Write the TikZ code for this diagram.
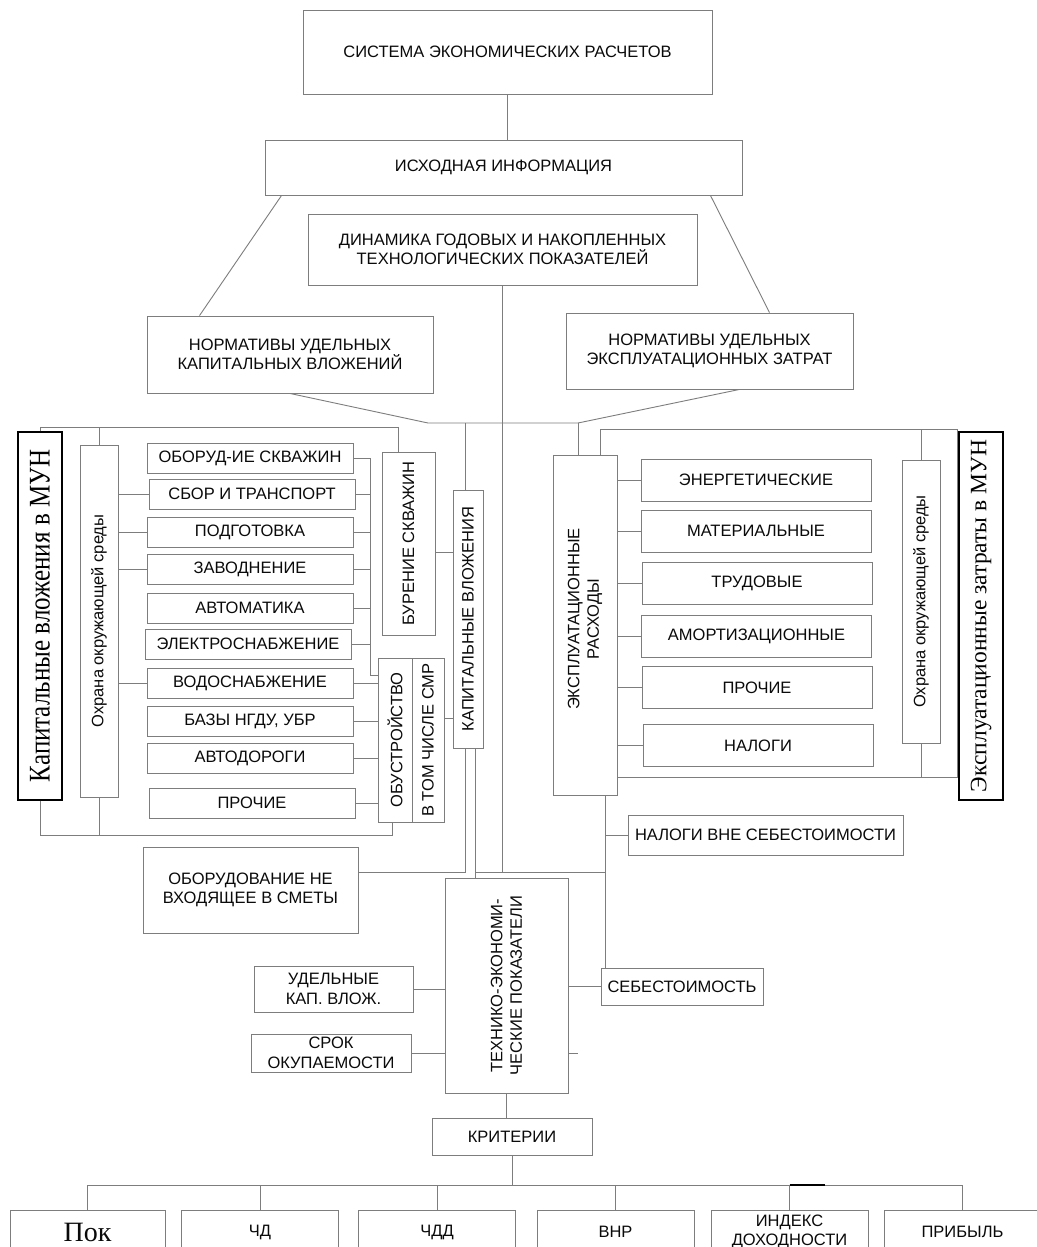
\documentclass[tikz,border=0pt]{standalone}
\usepackage{graphicx}
\usepackage{fontspec}
\setmainfont{Liberation Sans}
\newfontfamily\timesfont{Liberation Serif}
\usetikzlibrary{positioning}
\definecolor{linegray}{RGB}{125,125,125}
\definecolor{txtgray}{RGB}{10,10,10}
\newcommand{\labfont}{\fontsize{16.5}{19.5}\selectfont}
\newcommand{\bigserif}{\timesfont\fontsize{25}{28}\selectfont}
\tikzset{
  box/.style={draw=linegray, line width=0.9pt, inner sep=0pt, align=center, font=\labfont, text=txtgray},
  sz/.style 2 args={minimum width=#1pt, minimum height=#2pt},
  vlab/.style={rotate=90, inner sep=0pt, align=center, font=\labfont, text=txtgray},
  conn/.style={draw=linegray, line width=0.9pt},
  mun/.style={draw=black, line width=1.3pt, inner sep=0pt},
}

\begin{document}
\begin{tikzpicture}[x=1pt, y=-1pt]
\useasboundingbox (0,0) rectangle (1036,1247);
\fill[white] (0,0) rectangle (1036,1247);

% top part
\node[box, sz={409}{84}] (sys) at (507.5,52) {СИСТЕМА ЭКОНОМИЧЕСКИХ РАСЧЕТОВ};
\node[box, sz={477}{55}] (info) at (503.5,167.5) {ИСХОДНАЯ ИНФОРМАЦИЯ};
\node[box, sz={389}{71}] (dyn) at (502.5,249.5) {ДИНАМИКА ГОДОВЫХ И НАКОПЛЕННЫХ\\ТЕХНОЛОГИЧЕСКИХ ПОКАЗАТЕЛЕЙ};
\node[box, sz={286}{77}] (nkv) at (290,354.5) {НОРМАТИВЫ УДЕЛЬНЫХ\\КАПИТАЛЬНЫХ ВЛОЖЕНИЙ};
\node[box, sz={287}{76}] (nez) at (709.5,351) {НОРМАТИВЫ УДЕЛЬНЫХ\\ЭКСПЛУАТАЦИОННЫХ ЗАТРАТ};

% capital investments
\node[mun, sz={44}{368}] (kvmun) at (40,616) {};
\node[rotate=90, inner sep=0pt, font=\bigserif] (kvmun-t) at (kvmun.center) {\scalebox{1}[1.2]{Капитальные вложения в МУН}};
\node[box, sz={38}{352}] (oxrl) at (99,621) {};
\node[vlab] (oxrl-t) at (oxrl.center) {Охрана окружающей среды};
\foreach \i/\x/\y/\t in {1/250/458/ОБОРУД-ИЕ СКВАЖИН, 2/252/494/СБОР И ТРАНСПОРТ, 3/250/532/ПОДГОТОВКА,
  4/250/569/ЗАВОДНЕНИЕ, 5/250/608/АВТОМАТИКА, 6/248/644/ЭЛЕКТРОСНАБЖЕНИЕ, 7/250/683/ВОДОСНАБЖЕНИЕ,
  8/250/721/{БАЗЫ НГДУ, УБР}, 9/250/758/АВТОДОРОГИ, 10/252/803/ПРОЧИЕ}
  \node[box, sz={206}{30}] (li\i) at (\x,\y) {\t};
\node[box, sz={53}{183}] (bs) at (408.5,543.5) {};
\node[vlab] (bs-t) at (bs.center) {БУРЕНИЕ СКВАЖИН};
\node[box, sz={34}{164}] (obu) at (395,740) {};
\node[vlab] (obu-t) at (obu.center) {ОБУСТРОЙСТВО};
\node[box, sz={32}{164}] (smr) at (428,740) {};
\node[vlab] (smr-t) at (smr.center) {В ТОМ ЧИСЛЕ СМР};
\node[box, sz={30}{258}] (kv) at (468,619) {};
\node[vlab] (kv-t) at (kv.center) {КАПИТАЛЬНЫЕ ВЛОЖЕНИЯ};
\node[box, sz={215}{86}] (obne) at (250.5,890) {ОБОРУДОВАНИЕ НЕ\\ВХОДЯЩЕЕ В СМЕТЫ};

% operating costs
\node[box, sz={64}{340}] (er) at (585,625) {};
\node[vlab] (er-t) at ([yshift=6pt]er.center) {ЭКСПЛУАТАЦИОННЫЕ\\РАСХОДЫ};
\foreach \i/\x/\y/\t in {1/756/480/ЭНЕРГЕТИЧЕСКИЕ, 2/756/531/МАТЕРИАЛЬНЫЕ, 3/757/583/ТРУДОВЫЕ,
  4/756.5/636/АМОРТИЗАЦИОННЫЕ, 5/757/687.5/ПРОЧИЕ, 6/758/745.5/НАЛОГИ}
  \node[box, sz={230}{42}] (ri\i) at (\x,\y) {\t};
\node[box, sz={38}{283}] (oxrr) at (921,601.5) {};
\node[vlab] (oxrr-t) at (oxrr.center) {Охрана окружающей среды};
\node[mun, sz={44}{368}] (ezmun) at (981,616) {};
\node[rotate=90, inner sep=0pt, font=\timesfont\fontsize{23.5}{26}\selectfont] (ezmun-t) at (ezmun.center) {Эксплуатационные затраты в МУН};
\node[box, sz={275}{40}] (nvs) at (765.5,835) {НАЛОГИ ВНЕ СЕБЕСТОИМОСТИ};

% indicators and criteria
\node[box, sz={123}{215}] (tep) at (506.5,985.5) {};
\node[vlab] (tep-t) at (tep.center) {ТЕХНИКО-ЭКОНОМИ-\\ЧЕСКИЕ ПОКАЗАТЕЛИ};
\node[box, sz={162}{37}] (seb) at (682,986.5) {СЕБЕСТОИМОСТЬ};
\node[box, sz={159}{46}] (ukv) at (333.5,989) {УДЕЛЬНЫЕ\\КАП. ВЛОЖ.};
\node[box, sz={160}{38}] (srok) at (331,1053) {СРОК\\ОКУПАЕМОСТИ};
\node[box, sz={160}{37}] (krit) at (512,1136.5) {КРИТЕРИИ};
\node[box, sz={155}{44}, font=\timesfont\fontsize{28}{30}\selectfont] (b1) at (87.5,1232) {Пок};
\foreach \i/\x/\t in {2/260/ЧД, 3/437/ЧДД, 4/615.5/ВНР, 5/789.5/ИНДЕКС\\ДОХОДНОСТИ, 6/962.5/ПРИБЫЛЬ}
  \node[box, sz={157}{44}] (b\i) at (\x,1232) {\t};

\coordinate (jl) at (428,423);
\coordinate (jr) at (578,423);
\coordinate (ltop) at (40,427);
\coordinate (lbot) at (40,835);
\coordinate (lvx) at (370,675);
\coordinate (mbus) at (0,872);
\coordinate (rtop) at (957,429);
\coordinate (rbot) at (957,777);
\coordinate (bbus) at (0,1185);

\draw[conn] (sys.south) -- (sys.south |- info.north);
\draw[conn] ([xshift=17pt]info.south west) -- ([xshift=53pt]nkv.north west);
\draw[conn] ([xshift=-32pt]info.south east) -- ([xshift=60pt]nez.north);
\draw[conn] (nkv.south) -- (jl) -- (jr) -- ([xshift=30pt]nez.south);
\draw[conn] (dyn.south) -- (dyn.south |- mbus);
\draw[conn] ([xshift=-3pt]kv.north) -- ([xshift=-3pt]kv.north |- jl);
\draw[conn] ([xshift=-7pt]er.north) -- ([xshift=-7pt]er.north |- jr);

% left bracket
\draw[conn] (kvmun.north) -- (ltop) -| ([xshift=-10pt]bs.north);
\draw[conn] (oxrl.north) -- (oxrl.north |- ltop);
\draw[conn] (kvmun.south) -- (lbot) -| ([xshift=-3pt]obu.south);
\draw[conn] (oxrl.south) -- (oxrl.south |- lbot);
\foreach \i in {2,3,4,7} \draw[conn] (oxrl.east |- li\i.west) -- (li\i.west);
\draw[conn] (li1.east) -| (lvx) -- (lvx -| obu.west);
\foreach \i in {2,...,6} \draw[conn] (li\i.east) -- (li\i.east -| lvx);
\foreach \i in {7,...,10} \draw[conn] (li\i.east) -- (li\i.east -| obu.west);
\draw[conn] ([yshift=-9pt]bs.east) -- ([yshift=-9pt]bs.east -| kv.west);
\draw[conn] ([yshift=22pt]smr.east) -- ([yshift=22pt]smr.east -| kv.west);
\draw[conn] ([xshift=-3pt]kv.south) |- ([yshift=18pt]obne.east);
\draw[conn] ([xshift=7pt]kv.south) -- ([xshift=7pt]kv.south |- tep.north);
\draw[conn] ([xshift=7pt]kv.south |- mbus) -- ([xshift=20pt]er.south |- mbus);

% right bracket
\draw[conn] ([xshift=15pt]er.north) |- (rtop) -- (rbot) -- (er.east |- rbot);
\draw[conn] (oxrr.north) -- (oxrr.north |- rtop);
\draw[conn] (oxrr.south) -- (oxrr.south |- rbot);
\foreach \i in {1,...,6} \draw[conn] (er.east |- ri\i.west) -- (ri\i.west);
\draw[conn] ([xshift=20pt]er.south) -- ([xshift=20pt]er.south |- seb.north);
\draw[conn] ([xshift=20pt]er.south |- nvs.west) -- (nvs.west);

% bottom
\draw[conn] (tep.east |- seb.west) -- (seb.west);
\draw[conn] (tep.east |- srok.east) -- ++(10,0);
\draw[conn] (ukv.east) -- (ukv.east -| tep.west);
\draw[conn] (srok.east) -- (srok.east -| tep.west);
\draw[conn] (tep.south) -- (tep.south |- krit.north);
\draw[conn] (krit.south) -- (krit.south |- bbus);
\draw[conn] (b1.north) |- (b6.north |- bbus) -- (b6.north);
\foreach \i in {2,...,5} \draw[conn] (b\i.north) -- (b\i.north |- bbus);
\draw[line width=2.2pt] (b5.north |- bbus) -- ++(35,0);
\end{tikzpicture}
\end{document}
